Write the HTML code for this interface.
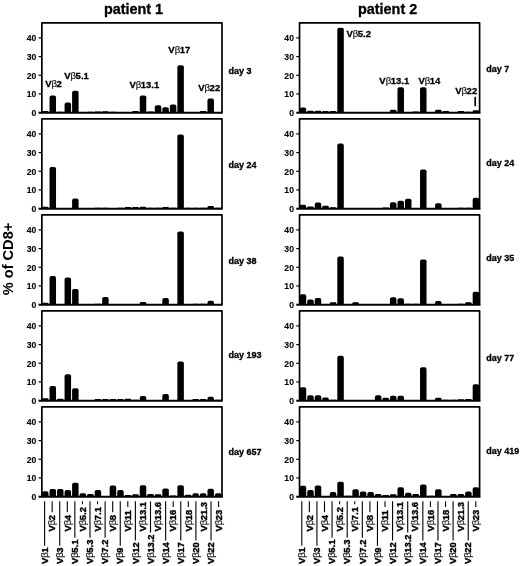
<!DOCTYPE html>
<html><head><meta charset="utf-8"><style>
html,body{margin:0;padding:0;background:#fff;width:520px;height:566px;overflow:hidden}
svg{display:block;filter:blur(0.4px)}
text{stroke:#000;stroke-width:0.3px}
</style></head><body>
<svg width="520" height="566" viewBox="0 0 520 566" font-family='"Liberation Sans", sans-serif' font-weight="bold">
<rect width="520" height="566" fill="#fff"/>
<g fill="#000">
<path d="M42.01,112.60V111.85Q42.01,111.11 42.76,111.11H47.76Q48.51,111.11 48.51,111.85V112.60Z"/>
<path d="M49.53,112.60V97.51Q49.53,95.61 51.43,95.61H54.13Q56.03,95.61 56.03,97.51V112.60Z"/>
<path d="M57.05,112.60V112.13Q57.05,111.67 57.52,111.67H63.08Q63.55,111.67 63.55,112.13V112.60Z"/>
<path d="M64.57,112.60V104.42Q64.57,102.52 66.47,102.52H69.17Q71.07,102.52 71.07,104.42V112.60Z"/>
<path d="M72.09,112.60V92.65Q72.09,90.75 73.99,90.75H76.69Q78.59,90.75 78.59,92.65V112.60Z"/>
<path d="M79.61,112.60V112.41Q79.61,112.23 79.80,112.23H85.92Q86.11,112.23 86.11,112.41V112.60Z"/>
<path d="M87.13,112.60V112.13Q87.13,111.67 87.60,111.67H93.16Q93.63,111.67 93.63,112.13V112.60Z"/>
<path d="M94.65,112.60V112.04Q94.65,111.48 95.21,111.48H100.59Q101.15,111.48 101.15,112.04V112.60Z"/>
<path d="M102.17,112.60V111.95Q102.17,111.29 102.82,111.29H108.02Q108.67,111.29 108.67,111.95V112.60Z"/>
<path d="M109.69,112.60V112.13Q109.69,111.67 110.16,111.67H115.72Q116.19,111.67 116.19,112.13V112.60Z"/>
<path d="M117.21,112.60V112.32Q117.21,112.04 117.49,112.04H123.43Q123.71,112.04 123.71,112.32V112.60Z"/>
<path d="M124.73,112.60V112.41Q124.73,112.23 124.92,112.23H131.04Q131.23,112.23 131.23,112.41V112.60Z"/>
<path d="M132.25,112.60V111.85Q132.25,111.11 133.00,111.11H138.00Q138.75,111.11 138.75,111.85V112.60Z"/>
<path d="M139.77,112.60V97.32Q139.77,95.42 141.67,95.42H144.37Q146.27,95.42 146.27,97.32V112.60Z"/>
<path d="M147.29,112.60V112.04Q147.29,111.48 147.85,111.48H153.23Q153.79,111.48 153.79,112.04V112.60Z"/>
<path d="M154.81,112.60V107.22Q154.81,105.32 156.71,105.32H159.41Q161.31,105.32 161.31,107.22V112.60Z"/>
<path d="M162.33,112.60V109.08Q162.33,107.18 164.23,107.18H166.93Q168.83,107.18 168.83,109.08V112.60Z"/>
<path d="M169.85,112.60V106.47Q169.85,104.57 171.75,104.57H174.45Q176.35,104.57 176.35,106.47V112.60Z"/>
<path d="M177.37,112.60V67.25Q177.37,65.35 179.27,65.35H181.97Q183.87,65.35 183.87,67.25V112.60Z"/>
<path d="M184.89,112.60V112.32Q184.89,112.04 185.17,112.04H191.11Q191.39,112.04 191.39,112.32V112.60Z"/>
<path d="M192.41,112.60V112.32Q192.41,112.04 192.69,112.04H198.63Q198.91,112.04 198.91,112.32V112.60Z"/>
<path d="M199.93,112.60V111.85Q199.93,111.11 200.68,111.11H205.68Q206.43,111.11 206.43,111.85V112.60Z"/>
<path d="M207.45,112.60V100.49Q207.45,98.59 209.35,98.59H212.05Q213.95,98.59 213.95,100.49V112.60Z"/>
<path d="M214.97,112.60V112.32Q214.97,112.04 215.25,112.04H221.19Q221.47,112.04 221.47,112.32V112.60Z"/>
</g>
<path d="M41.85,112.6V22.9H222.0V112.6" fill="none" stroke="#000" stroke-width="1.7" stroke-linejoin="round"/>
<path d="M38.550000000000004,112.75H222.85" fill="none" stroke="#000" stroke-width="1.8"/>
<path d="M38.550000000000004,93.92H41.85" stroke="#000" stroke-width="1.2"/>
<path d="M38.550000000000004,75.25H41.85" stroke="#000" stroke-width="1.2"/>
<path d="M38.550000000000004,56.57H41.85" stroke="#000" stroke-width="1.2"/>
<path d="M38.550000000000004,37.90H41.85" stroke="#000" stroke-width="1.2"/>
<text transform="translate(36.25,115.95) scale(0.88,1)" font-size="9.8" text-anchor="end" style="stroke-width:0.12px">0</text>
<text transform="translate(36.25,97.27) scale(0.88,1)" font-size="9.8" text-anchor="end" style="stroke-width:0.12px">10</text>
<text transform="translate(36.25,78.60) scale(0.88,1)" font-size="9.8" text-anchor="end" style="stroke-width:0.12px">20</text>
<text transform="translate(36.25,59.92) scale(0.88,1)" font-size="9.8" text-anchor="end" style="stroke-width:0.12px">30</text>
<text transform="translate(36.25,41.25) scale(0.88,1)" font-size="9.8" text-anchor="end" style="stroke-width:0.12px">40</text>
<text x="228.5" y="73.6" font-size="9">day 3</text>
<g fill="#000">
<path d="M42.01,208.60V207.67Q42.01,206.73 42.94,206.73H47.58Q48.51,206.73 48.51,207.67V208.60Z"/>
<path d="M49.53,208.60V168.85Q49.53,166.95 51.43,166.95H54.13Q56.03,166.95 56.03,168.85V208.60Z"/>
<path d="M57.05,208.60V208.32Q57.05,208.04 57.33,208.04H63.27Q63.55,208.04 63.55,208.32V208.60Z"/>
<path d="M64.57,208.60V208.32Q64.57,208.04 64.85,208.04H70.79Q71.07,208.04 71.07,208.32V208.60Z"/>
<path d="M72.09,208.60V200.42Q72.09,198.52 73.99,198.52H76.69Q78.59,198.52 78.59,200.42V208.60Z"/>
<path d="M79.61,208.60V208.32Q79.61,208.04 79.89,208.04H85.83Q86.11,208.04 86.11,208.32V208.60Z"/>
<path d="M87.13,208.60V208.41Q87.13,208.23 87.32,208.23H93.44Q93.63,208.23 93.63,208.41V208.60Z"/>
<path d="M94.65,208.60V208.13Q94.65,207.67 95.12,207.67H100.68Q101.15,207.67 101.15,208.13V208.60Z"/>
<path d="M102.17,208.60V208.13Q102.17,207.67 102.64,207.67H108.20Q108.67,207.67 108.67,208.13V208.60Z"/>
<path d="M109.69,208.60V208.32Q109.69,208.04 109.97,208.04H115.91Q116.19,208.04 116.19,208.32V208.60Z"/>
<path d="M117.21,208.60V208.13Q117.21,207.67 117.68,207.67H123.24Q123.71,207.67 123.71,208.13V208.60Z"/>
<path d="M124.73,208.60V207.85Q124.73,207.11 125.48,207.11H130.48Q131.23,207.11 131.23,207.85V208.60Z"/>
<path d="M132.25,208.60V207.85Q132.25,207.11 133.00,207.11H138.00Q138.75,207.11 138.75,207.85V208.60Z"/>
<path d="M139.77,208.60V207.67Q139.77,206.73 140.70,206.73H145.34Q146.27,206.73 146.27,207.67V208.60Z"/>
<path d="M147.29,208.60V208.13Q147.29,207.67 147.76,207.67H153.32Q153.79,207.67 153.79,208.13V208.60Z"/>
<path d="M154.81,208.60V208.13Q154.81,207.67 155.28,207.67H160.84Q161.31,207.67 161.31,208.13V208.60Z"/>
<path d="M162.33,208.60V207.85Q162.33,207.11 163.08,207.11H168.08Q168.83,207.11 168.83,207.85V208.60Z"/>
<path d="M169.85,208.60V208.13Q169.85,207.67 170.32,207.67H175.88Q176.35,207.67 176.35,208.13V208.60Z"/>
<path d="M177.37,208.60V136.36Q177.37,134.46 179.27,134.46H181.97Q183.87,134.46 183.87,136.36V208.60Z"/>
<path d="M184.89,208.60V208.13Q184.89,207.67 185.36,207.67H190.92Q191.39,207.67 191.39,208.13V208.60Z"/>
<path d="M192.41,208.60V208.13Q192.41,207.67 192.88,207.67H198.44Q198.91,207.67 198.91,208.13V208.60Z"/>
<path d="M199.93,208.60V208.13Q199.93,207.67 200.40,207.67H205.96Q206.43,207.67 206.43,208.13V208.60Z"/>
<path d="M207.45,208.60V207.29Q207.45,205.99 208.76,205.99H212.64Q213.95,205.99 213.95,207.29V208.60Z"/>
<path d="M214.97,208.60V208.13Q214.97,207.67 215.44,207.67H221.00Q221.47,207.67 221.47,208.13V208.60Z"/>
</g>
<path d="M41.85,208.6V118.9H222.0V208.6" fill="none" stroke="#000" stroke-width="1.7" stroke-linejoin="round"/>
<path d="M38.550000000000004,208.75H222.85" fill="none" stroke="#000" stroke-width="1.8"/>
<path d="M38.550000000000004,189.92H41.85" stroke="#000" stroke-width="1.2"/>
<path d="M38.550000000000004,171.25H41.85" stroke="#000" stroke-width="1.2"/>
<path d="M38.550000000000004,152.57H41.85" stroke="#000" stroke-width="1.2"/>
<path d="M38.550000000000004,133.90H41.85" stroke="#000" stroke-width="1.2"/>
<text transform="translate(36.25,211.95) scale(0.88,1)" font-size="9.8" text-anchor="end" style="stroke-width:0.12px">0</text>
<text transform="translate(36.25,193.27) scale(0.88,1)" font-size="9.8" text-anchor="end" style="stroke-width:0.12px">10</text>
<text transform="translate(36.25,174.60) scale(0.88,1)" font-size="9.8" text-anchor="end" style="stroke-width:0.12px">20</text>
<text transform="translate(36.25,155.92) scale(0.88,1)" font-size="9.8" text-anchor="end" style="stroke-width:0.12px">30</text>
<text transform="translate(36.25,137.25) scale(0.88,1)" font-size="9.8" text-anchor="end" style="stroke-width:0.12px">40</text>
<text x="228.5" y="168.0" font-size="9">day 24</text>
<g fill="#000">
<path d="M42.01,304.60V303.67Q42.01,302.73 42.94,302.73H47.58Q48.51,302.73 48.51,303.67V304.60Z"/>
<path d="M49.53,304.60V277.93Q49.53,276.03 51.43,276.03H54.13Q56.03,276.03 56.03,277.93V304.60Z"/>
<path d="M57.05,304.60V304.32Q57.05,304.04 57.33,304.04H63.27Q63.55,304.04 63.55,304.32V304.60Z"/>
<path d="M64.57,304.60V279.42Q64.57,277.52 66.47,277.52H69.17Q71.07,277.52 71.07,279.42V304.60Z"/>
<path d="M72.09,304.60V291.00Q72.09,289.10 73.99,289.10H76.69Q78.59,289.10 78.59,291.00V304.60Z"/>
<path d="M79.61,304.60V304.32Q79.61,304.04 79.89,304.04H85.83Q86.11,304.04 86.11,304.32V304.60Z"/>
<path d="M87.13,304.60V304.32Q87.13,304.04 87.41,304.04H93.35Q93.63,304.04 93.63,304.32V304.60Z"/>
<path d="M94.65,304.60V304.13Q94.65,303.67 95.12,303.67H100.68Q101.15,303.67 101.15,304.13V304.60Z"/>
<path d="M102.17,304.60V298.84Q102.17,296.94 104.07,296.94H106.77Q108.67,296.94 108.67,298.84V304.60Z"/>
<path d="M109.69,304.60V304.32Q109.69,304.04 109.97,304.04H115.91Q116.19,304.04 116.19,304.32V304.60Z"/>
<path d="M117.21,304.60V304.32Q117.21,304.04 117.49,304.04H123.43Q123.71,304.04 123.71,304.32V304.60Z"/>
<path d="M124.73,304.60V304.32Q124.73,304.04 125.01,304.04H130.95Q131.23,304.04 131.23,304.32V304.60Z"/>
<path d="M132.25,304.60V304.32Q132.25,304.04 132.53,304.04H138.47Q138.75,304.04 138.75,304.32V304.60Z"/>
<path d="M139.77,304.60V303.29Q139.77,301.99 141.08,301.99H144.96Q146.27,301.99 146.27,303.29V304.60Z"/>
<path d="M147.29,304.60V304.32Q147.29,304.04 147.57,304.04H153.51Q153.79,304.04 153.79,304.32V304.60Z"/>
<path d="M154.81,304.60V304.32Q154.81,304.04 155.09,304.04H161.03Q161.31,304.04 161.31,304.32V304.60Z"/>
<path d="M162.33,304.60V299.96Q162.33,298.06 164.23,298.06H166.93Q168.83,298.06 168.83,299.96V304.60Z"/>
<path d="M169.85,304.60V304.32Q169.85,304.04 170.13,304.04H176.07Q176.35,304.04 176.35,304.32V304.60Z"/>
<path d="M177.37,304.60V233.29Q177.37,231.39 179.27,231.39H181.97Q183.87,231.39 183.87,233.29V304.60Z"/>
<path d="M184.89,304.60V304.32Q184.89,304.04 185.17,304.04H191.11Q191.39,304.04 191.39,304.32V304.60Z"/>
<path d="M192.41,304.60V304.13Q192.41,303.67 192.88,303.67H198.44Q198.91,303.67 198.91,304.13V304.60Z"/>
<path d="M199.93,304.60V304.13Q199.93,303.67 200.40,303.67H205.96Q206.43,303.67 206.43,304.13V304.60Z"/>
<path d="M207.45,304.60V302.73Q207.45,300.87 209.32,300.87H212.08Q213.95,300.87 213.95,302.73V304.60Z"/>
<path d="M214.97,304.60V304.32Q214.97,304.04 215.25,304.04H221.19Q221.47,304.04 221.47,304.32V304.60Z"/>
</g>
<path d="M41.85,304.6V214.9H222.0V304.6" fill="none" stroke="#000" stroke-width="1.7" stroke-linejoin="round"/>
<path d="M38.550000000000004,304.75H222.85" fill="none" stroke="#000" stroke-width="1.8"/>
<path d="M38.550000000000004,285.93H41.85" stroke="#000" stroke-width="1.2"/>
<path d="M38.550000000000004,267.25H41.85" stroke="#000" stroke-width="1.2"/>
<path d="M38.550000000000004,248.58H41.85" stroke="#000" stroke-width="1.2"/>
<path d="M38.550000000000004,229.90H41.85" stroke="#000" stroke-width="1.2"/>
<text transform="translate(36.25,307.95) scale(0.88,1)" font-size="9.8" text-anchor="end" style="stroke-width:0.12px">0</text>
<text transform="translate(36.25,289.28) scale(0.88,1)" font-size="9.8" text-anchor="end" style="stroke-width:0.12px">10</text>
<text transform="translate(36.25,270.60) scale(0.88,1)" font-size="9.8" text-anchor="end" style="stroke-width:0.12px">20</text>
<text transform="translate(36.25,251.93) scale(0.88,1)" font-size="9.8" text-anchor="end" style="stroke-width:0.12px">30</text>
<text transform="translate(36.25,233.25) scale(0.88,1)" font-size="9.8" text-anchor="end" style="stroke-width:0.12px">40</text>
<text x="228.5" y="263.9" font-size="9">day 38</text>
<g fill="#000">
<path d="M42.01,400.60V399.39Q42.01,398.17 43.22,398.17H47.30Q48.51,398.17 48.51,399.39V400.60Z"/>
<path d="M49.53,400.60V387.93Q49.53,386.03 51.43,386.03H54.13Q56.03,386.03 56.03,387.93V400.60Z"/>
<path d="M57.05,400.60V399.67Q57.05,398.73 57.98,398.73H62.62Q63.55,398.73 63.55,399.67V400.60Z"/>
<path d="M64.57,400.60V376.17Q64.57,374.27 66.47,374.27H69.17Q71.07,374.27 71.07,376.17V400.60Z"/>
<path d="M72.09,400.60V390.17Q72.09,388.27 73.99,388.27H76.69Q78.59,388.27 78.59,390.17V400.60Z"/>
<path d="M79.61,400.60V400.32Q79.61,400.04 79.89,400.04H85.83Q86.11,400.04 86.11,400.32V400.60Z"/>
<path d="M87.13,400.60V400.32Q87.13,400.04 87.41,400.04H93.35Q93.63,400.04 93.63,400.32V400.60Z"/>
<path d="M94.65,400.60V399.85Q94.65,399.11 95.40,399.11H100.40Q101.15,399.11 101.15,399.85V400.60Z"/>
<path d="M102.17,400.60V399.85Q102.17,399.11 102.92,399.11H107.92Q108.67,399.11 108.67,399.85V400.60Z"/>
<path d="M109.69,400.60V399.85Q109.69,399.11 110.44,399.11H115.44Q116.19,399.11 116.19,399.85V400.60Z"/>
<path d="M117.21,400.60V399.85Q117.21,399.11 117.96,399.11H122.96Q123.71,399.11 123.71,399.85V400.60Z"/>
<path d="M124.73,400.60V399.67Q124.73,398.73 125.66,398.73H130.30Q131.23,398.73 131.23,399.67V400.60Z"/>
<path d="M132.25,400.60V400.13Q132.25,399.67 132.72,399.67H138.28Q138.75,399.67 138.75,400.13V400.60Z"/>
<path d="M139.77,400.60V398.02Q139.77,396.12 141.67,396.12H144.37Q146.27,396.12 146.27,398.02V400.60Z"/>
<path d="M147.29,400.60V400.32Q147.29,400.04 147.57,400.04H153.51Q153.79,400.04 153.79,400.32V400.60Z"/>
<path d="M154.81,400.60V400.32Q154.81,400.04 155.09,400.04H161.03Q161.31,400.04 161.31,400.32V400.60Z"/>
<path d="M162.33,400.60V395.96Q162.33,394.06 164.23,394.06H166.93Q168.83,394.06 168.83,395.96V400.60Z"/>
<path d="M169.85,400.60V400.32Q169.85,400.04 170.13,400.04H176.07Q176.35,400.04 176.35,400.32V400.60Z"/>
<path d="M177.37,400.60V363.28Q177.37,361.38 179.27,361.38H181.97Q183.87,361.38 183.87,363.28V400.60Z"/>
<path d="M184.89,400.60V400.32Q184.89,400.04 185.17,400.04H191.11Q191.39,400.04 191.39,400.32V400.60Z"/>
<path d="M192.41,400.60V399.85Q192.41,399.11 193.16,399.11H198.16Q198.91,399.11 198.91,399.85V400.60Z"/>
<path d="M199.93,400.60V399.85Q199.93,399.11 200.68,399.11H205.68Q206.43,399.11 206.43,399.85V400.60Z"/>
<path d="M207.45,400.60V398.73Q207.45,396.87 209.32,396.87H212.08Q213.95,396.87 213.95,398.73V400.60Z"/>
<path d="M214.97,400.60V400.13Q214.97,399.67 215.44,399.67H221.00Q221.47,399.67 221.47,400.13V400.60Z"/>
</g>
<path d="M41.85,400.6V310.9H222.0V400.6" fill="none" stroke="#000" stroke-width="1.7" stroke-linejoin="round"/>
<path d="M38.550000000000004,400.75H222.85" fill="none" stroke="#000" stroke-width="1.8"/>
<path d="M38.550000000000004,381.93H41.85" stroke="#000" stroke-width="1.2"/>
<path d="M38.550000000000004,363.25H41.85" stroke="#000" stroke-width="1.2"/>
<path d="M38.550000000000004,344.58H41.85" stroke="#000" stroke-width="1.2"/>
<path d="M38.550000000000004,325.90H41.85" stroke="#000" stroke-width="1.2"/>
<text transform="translate(36.25,403.95) scale(0.88,1)" font-size="9.8" text-anchor="end" style="stroke-width:0.12px">0</text>
<text transform="translate(36.25,385.28) scale(0.88,1)" font-size="9.8" text-anchor="end" style="stroke-width:0.12px">10</text>
<text transform="translate(36.25,366.60) scale(0.88,1)" font-size="9.8" text-anchor="end" style="stroke-width:0.12px">20</text>
<text transform="translate(36.25,347.93) scale(0.88,1)" font-size="9.8" text-anchor="end" style="stroke-width:0.12px">30</text>
<text transform="translate(36.25,329.25) scale(0.88,1)" font-size="9.8" text-anchor="end" style="stroke-width:0.12px">40</text>
<text x="228.5" y="358.3" font-size="9">day 193</text>
<g fill="#000">
<path d="M42.01,496.60V493.08Q42.01,491.18 43.91,491.18H46.61Q48.51,491.18 48.51,493.08V496.60Z"/>
<path d="M49.53,496.60V490.84Q49.53,488.94 51.43,488.94H54.13Q56.03,488.94 56.03,490.84V496.60Z"/>
<path d="M57.05,496.60V490.84Q57.05,488.94 58.95,488.94H61.65Q63.55,488.94 63.55,490.84V496.60Z"/>
<path d="M64.57,496.60V491.96Q64.57,490.06 66.47,490.06H69.17Q71.07,490.06 71.07,491.96V496.60Z"/>
<path d="M72.09,496.60V484.68Q72.09,482.78 73.99,482.78H76.69Q78.59,482.78 78.59,484.68V496.60Z"/>
<path d="M79.61,496.60V494.92Q79.61,493.24 81.29,493.24H84.43Q86.11,493.24 86.11,494.92V496.60Z"/>
<path d="M87.13,496.60V495.29Q87.13,493.99 88.44,493.99H92.32Q93.63,493.99 93.63,495.29V496.60Z"/>
<path d="M94.65,496.60V491.96Q94.65,490.06 96.55,490.06H99.25Q101.15,490.06 101.15,491.96V496.60Z"/>
<path d="M102.17,496.60V496.32Q102.17,496.04 102.45,496.04H108.39Q108.67,496.04 108.67,496.32V496.60Z"/>
<path d="M109.69,496.60V487.48Q109.69,485.58 111.59,485.58H114.29Q116.19,485.58 116.19,487.48V496.60Z"/>
<path d="M117.21,496.60V491.96Q117.21,490.06 119.11,490.06H121.81Q123.71,490.06 123.71,491.96V496.60Z"/>
<path d="M124.73,496.60V495.85Q124.73,495.11 125.48,495.11H130.48Q131.23,495.11 131.23,495.85V496.60Z"/>
<path d="M132.25,496.60V495.48Q132.25,494.36 133.37,494.36H137.63Q138.75,494.36 138.75,495.48V496.60Z"/>
<path d="M139.77,496.60V487.11Q139.77,485.21 141.67,485.21H144.37Q146.27,485.21 146.27,487.11V496.60Z"/>
<path d="M147.29,496.60V495.29Q147.29,493.99 148.60,493.99H152.48Q153.79,493.99 153.79,495.29V496.60Z"/>
<path d="M154.81,496.60V495.48Q154.81,494.36 155.93,494.36H160.19Q161.31,494.36 161.31,495.48V496.60Z"/>
<path d="M162.33,496.60V490.28Q162.33,488.38 164.23,488.38H166.93Q168.83,488.38 168.83,490.28V496.60Z"/>
<path d="M169.85,496.60V496.04Q169.85,495.48 170.41,495.48H175.79Q176.35,495.48 176.35,496.04V496.60Z"/>
<path d="M177.37,496.60V487.11Q177.37,485.21 179.27,485.21H181.97Q183.87,485.21 183.87,487.11V496.60Z"/>
<path d="M184.89,496.60V495.67Q184.89,494.73 185.82,494.73H190.46Q191.39,494.73 191.39,495.67V496.60Z"/>
<path d="M192.41,496.60V494.92Q192.41,493.24 194.09,493.24H197.23Q198.91,493.24 198.91,494.92V496.60Z"/>
<path d="M199.93,496.60V494.92Q199.93,493.24 201.61,493.24H204.75Q206.43,493.24 206.43,494.92V496.60Z"/>
<path d="M207.45,496.60V490.66Q207.45,488.76 209.35,488.76H212.05Q213.95,488.76 213.95,490.66V496.60Z"/>
<path d="M214.97,496.60V494.92Q214.97,493.24 216.65,493.24H219.79Q221.47,493.24 221.47,494.92V496.60Z"/>
</g>
<path d="M41.85,496.6V406.9H222.0V496.6" fill="none" stroke="#000" stroke-width="1.7" stroke-linejoin="round"/>
<path d="M38.550000000000004,496.75H222.85" fill="none" stroke="#000" stroke-width="1.8"/>
<path d="M38.550000000000004,477.93H41.85" stroke="#000" stroke-width="1.2"/>
<path d="M38.550000000000004,459.25H41.85" stroke="#000" stroke-width="1.2"/>
<path d="M38.550000000000004,440.58H41.85" stroke="#000" stroke-width="1.2"/>
<path d="M38.550000000000004,421.90H41.85" stroke="#000" stroke-width="1.2"/>
<text transform="translate(36.25,499.95) scale(0.88,1)" font-size="9.8" text-anchor="end" style="stroke-width:0.12px">0</text>
<text transform="translate(36.25,481.28) scale(0.88,1)" font-size="9.8" text-anchor="end" style="stroke-width:0.12px">10</text>
<text transform="translate(36.25,462.60) scale(0.88,1)" font-size="9.8" text-anchor="end" style="stroke-width:0.12px">20</text>
<text transform="translate(36.25,443.93) scale(0.88,1)" font-size="9.8" text-anchor="end" style="stroke-width:0.12px">30</text>
<text transform="translate(36.25,425.25) scale(0.88,1)" font-size="9.8" text-anchor="end" style="stroke-width:0.12px">40</text>
<text x="228.5" y="455.3" font-size="9">day 657</text>
<g fill="#000">
<path d="M299.71,112.60V109.46Q299.71,107.56 301.61,107.56H304.31Q306.21,107.56 306.21,109.46V112.60Z"/>
<path d="M307.23,112.60V111.67Q307.23,110.73 308.16,110.73H312.80Q313.73,110.73 313.73,111.67V112.60Z"/>
<path d="M314.75,112.60V111.67Q314.75,110.73 315.68,110.73H320.32Q321.25,110.73 321.25,111.67V112.60Z"/>
<path d="M322.27,112.60V111.85Q322.27,111.11 323.02,111.11H328.02Q328.77,111.11 328.77,111.85V112.60Z"/>
<path d="M329.79,112.60V111.85Q329.79,111.11 330.54,111.11H335.54Q336.29,111.11 336.29,111.85V112.60Z"/>
<path d="M337.31,112.60V29.53Q337.31,27.63 339.21,27.63H341.91Q343.81,27.63 343.81,29.53V112.60Z"/>
<path d="M344.83,112.60V112.32Q344.83,112.04 345.11,112.04H351.05Q351.33,112.04 351.33,112.32V112.60Z"/>
<path d="M352.35,112.60V112.32Q352.35,112.04 352.63,112.04H358.57Q358.85,112.04 358.85,112.32V112.60Z"/>
<path d="M359.87,112.60V112.32Q359.87,112.04 360.15,112.04H366.09Q366.37,112.04 366.37,112.32V112.60Z"/>
<path d="M367.39,112.60V112.32Q367.39,112.04 367.67,112.04H373.61Q373.89,112.04 373.89,112.32V112.60Z"/>
<path d="M374.91,112.60V112.32Q374.91,112.04 375.19,112.04H381.13Q381.41,112.04 381.41,112.32V112.60Z"/>
<path d="M382.43,112.60V112.32Q382.43,112.04 382.71,112.04H388.65Q388.93,112.04 388.93,112.32V112.60Z"/>
<path d="M389.95,112.60V111.20Q389.95,109.80 391.35,109.80H395.05Q396.45,109.80 396.45,111.20V112.60Z"/>
<path d="M397.47,112.60V89.10Q397.47,87.20 399.37,87.20H402.07Q403.97,87.20 403.97,89.10V112.60Z"/>
<path d="M404.99,112.60V112.32Q404.99,112.04 405.27,112.04H411.21Q411.49,112.04 411.49,112.32V112.60Z"/>
<path d="M412.51,112.60V112.04Q412.51,111.48 413.07,111.48H418.45Q419.01,111.48 419.01,112.04V112.60Z"/>
<path d="M420.03,112.60V89.10Q420.03,87.20 421.93,87.20H424.63Q426.53,87.20 426.53,89.10V112.60Z"/>
<path d="M427.55,112.60V112.32Q427.55,112.04 427.83,112.04H433.77Q434.05,112.04 434.05,112.32V112.60Z"/>
<path d="M435.07,112.60V111.20Q435.07,109.80 436.47,109.80H440.17Q441.57,109.80 441.57,111.20V112.60Z"/>
<path d="M442.59,112.60V111.85Q442.59,111.11 443.34,111.11H448.34Q449.09,111.11 449.09,111.85V112.60Z"/>
<path d="M450.11,112.60V112.32Q450.11,112.04 450.39,112.04H456.33Q456.61,112.04 456.61,112.32V112.60Z"/>
<path d="M457.63,112.60V111.85Q457.63,111.11 458.38,111.11H463.38Q464.13,111.11 464.13,111.85V112.60Z"/>
<path d="M465.15,112.60V112.23Q465.15,111.85 465.52,111.85H471.28Q471.65,111.85 471.65,112.23V112.60Z"/>
<path d="M472.67,112.60V111.48Q472.67,110.36 473.79,110.36H478.05Q479.17,110.36 479.17,111.48V112.60Z"/>
</g>
<path d="M299.55,112.6V22.9H479.6V112.6" fill="none" stroke="#000" stroke-width="1.7" stroke-linejoin="round"/>
<path d="M296.25,112.75H480.45000000000005" fill="none" stroke="#000" stroke-width="1.8"/>
<path d="M296.25,93.92H299.55" stroke="#000" stroke-width="1.2"/>
<path d="M296.25,75.25H299.55" stroke="#000" stroke-width="1.2"/>
<path d="M296.25,56.57H299.55" stroke="#000" stroke-width="1.2"/>
<path d="M296.25,37.90H299.55" stroke="#000" stroke-width="1.2"/>
<text transform="translate(293.95,115.95) scale(0.88,1)" font-size="9.8" text-anchor="end" style="stroke-width:0.12px">0</text>
<text transform="translate(293.95,97.27) scale(0.88,1)" font-size="9.8" text-anchor="end" style="stroke-width:0.12px">10</text>
<text transform="translate(293.95,78.60) scale(0.88,1)" font-size="9.8" text-anchor="end" style="stroke-width:0.12px">20</text>
<text transform="translate(293.95,59.92) scale(0.88,1)" font-size="9.8" text-anchor="end" style="stroke-width:0.12px">30</text>
<text transform="translate(293.95,41.25) scale(0.88,1)" font-size="9.8" text-anchor="end" style="stroke-width:0.12px">40</text>
<text x="486.2" y="72.0" font-size="9">day 7</text>
<g fill="#000">
<path d="M299.71,208.60V206.73Q299.71,204.86 301.58,204.86H304.34Q306.21,204.86 306.21,206.73V208.60Z"/>
<path d="M307.23,208.60V207.57Q307.23,206.55 308.26,206.55H312.70Q313.73,206.55 313.73,207.57V208.60Z"/>
<path d="M314.75,208.60V204.52Q314.75,202.62 316.65,202.62H319.35Q321.25,202.62 321.25,204.52V208.60Z"/>
<path d="M322.27,208.60V207.20Q322.27,205.80 323.67,205.80H327.37Q328.77,205.80 328.77,207.20V208.60Z"/>
<path d="M329.79,208.60V207.95Q329.79,207.29 330.44,207.29H335.64Q336.29,207.29 336.29,207.95V208.60Z"/>
<path d="M337.31,208.60V145.51Q337.31,143.61 339.21,143.61H341.91Q343.81,143.61 343.81,145.51V208.60Z"/>
<path d="M344.83,208.60V208.32Q344.83,208.04 345.11,208.04H351.05Q351.33,208.04 351.33,208.32V208.60Z"/>
<path d="M352.35,208.60V208.32Q352.35,208.04 352.63,208.04H358.57Q358.85,208.04 358.85,208.32V208.60Z"/>
<path d="M359.87,208.60V208.32Q359.87,208.04 360.15,208.04H366.09Q366.37,208.04 366.37,208.32V208.60Z"/>
<path d="M367.39,208.60V208.32Q367.39,208.04 367.67,208.04H373.61Q373.89,208.04 373.89,208.32V208.60Z"/>
<path d="M374.91,208.60V208.32Q374.91,208.04 375.19,208.04H381.13Q381.41,208.04 381.41,208.32V208.60Z"/>
<path d="M382.43,208.60V208.04Q382.43,207.48 382.99,207.48H388.37Q388.93,207.48 388.93,208.04V208.60Z"/>
<path d="M389.95,208.60V204.15Q389.95,202.25 391.85,202.25H394.55Q396.45,202.25 396.45,204.15V208.60Z"/>
<path d="M397.47,208.60V202.66Q397.47,200.76 399.37,200.76H402.07Q403.97,200.76 403.97,202.66V208.60Z"/>
<path d="M404.99,208.60V200.60Q404.99,198.70 406.89,198.70H409.59Q411.49,198.70 411.49,200.60V208.60Z"/>
<path d="M412.51,208.60V208.32Q412.51,208.04 412.79,208.04H418.73Q419.01,208.04 419.01,208.32V208.60Z"/>
<path d="M420.03,208.60V171.28Q420.03,169.38 421.93,169.38H424.63Q426.53,169.38 426.53,171.28V208.60Z"/>
<path d="M427.55,208.60V208.32Q427.55,208.04 427.83,208.04H433.77Q434.05,208.04 434.05,208.32V208.60Z"/>
<path d="M435.07,208.60V205.08Q435.07,203.18 436.97,203.18H439.67Q441.57,203.18 441.57,205.08V208.60Z"/>
<path d="M442.59,208.60V208.32Q442.59,208.04 442.87,208.04H448.81Q449.09,208.04 449.09,208.32V208.60Z"/>
<path d="M450.11,208.60V208.32Q450.11,208.04 450.39,208.04H456.33Q456.61,208.04 456.61,208.32V208.60Z"/>
<path d="M457.63,208.60V208.13Q457.63,207.67 458.10,207.67H463.66Q464.13,207.67 464.13,208.13V208.60Z"/>
<path d="M465.15,208.60V208.13Q465.15,207.67 465.62,207.67H471.18Q471.65,207.67 471.65,208.13V208.60Z"/>
<path d="M472.67,208.60V199.67Q472.67,197.77 474.57,197.77H477.27Q479.17,197.77 479.17,199.67V208.60Z"/>
</g>
<path d="M299.55,208.6V118.9H479.6V208.6" fill="none" stroke="#000" stroke-width="1.7" stroke-linejoin="round"/>
<path d="M296.25,208.75H480.45000000000005" fill="none" stroke="#000" stroke-width="1.8"/>
<path d="M296.25,189.92H299.55" stroke="#000" stroke-width="1.2"/>
<path d="M296.25,171.25H299.55" stroke="#000" stroke-width="1.2"/>
<path d="M296.25,152.57H299.55" stroke="#000" stroke-width="1.2"/>
<path d="M296.25,133.90H299.55" stroke="#000" stroke-width="1.2"/>
<text transform="translate(293.95,211.95) scale(0.88,1)" font-size="9.8" text-anchor="end" style="stroke-width:0.12px">0</text>
<text transform="translate(293.95,193.27) scale(0.88,1)" font-size="9.8" text-anchor="end" style="stroke-width:0.12px">10</text>
<text transform="translate(293.95,174.60) scale(0.88,1)" font-size="9.8" text-anchor="end" style="stroke-width:0.12px">20</text>
<text transform="translate(293.95,155.92) scale(0.88,1)" font-size="9.8" text-anchor="end" style="stroke-width:0.12px">30</text>
<text transform="translate(293.95,137.25) scale(0.88,1)" font-size="9.8" text-anchor="end" style="stroke-width:0.12px">40</text>
<text x="486.2" y="165.5" font-size="9">day 24</text>
<g fill="#000">
<path d="M299.71,304.60V296.23Q299.71,294.33 301.61,294.33H304.31Q306.21,294.33 306.21,296.23V304.60Z"/>
<path d="M307.23,304.60V301.46Q307.23,299.56 309.13,299.56H311.83Q313.73,299.56 313.73,301.46V304.60Z"/>
<path d="M314.75,304.60V299.78Q314.75,297.88 316.65,297.88H319.35Q321.25,297.88 321.25,299.78V304.60Z"/>
<path d="M322.27,304.60V304.32Q322.27,304.04 322.55,304.04H328.49Q328.77,304.04 328.77,304.32V304.60Z"/>
<path d="M329.79,304.60V303.39Q329.79,302.17 331.00,302.17H335.08Q336.29,302.17 336.29,303.39V304.60Z"/>
<path d="M337.31,304.60V258.51Q337.31,256.61 339.21,256.61H341.91Q343.81,256.61 343.81,258.51V304.60Z"/>
<path d="M344.83,304.60V304.32Q344.83,304.04 345.11,304.04H351.05Q351.33,304.04 351.33,304.32V304.60Z"/>
<path d="M352.35,304.60V303.39Q352.35,302.17 353.56,302.17H357.64Q358.85,302.17 358.85,303.39V304.60Z"/>
<path d="M359.87,304.60V304.32Q359.87,304.04 360.15,304.04H366.09Q366.37,304.04 366.37,304.32V304.60Z"/>
<path d="M367.39,304.60V304.32Q367.39,304.04 367.67,304.04H373.61Q373.89,304.04 373.89,304.32V304.60Z"/>
<path d="M374.91,304.60V304.32Q374.91,304.04 375.19,304.04H381.13Q381.41,304.04 381.41,304.32V304.60Z"/>
<path d="M382.43,304.60V304.32Q382.43,304.04 382.71,304.04H388.65Q388.93,304.04 388.93,304.32V304.60Z"/>
<path d="M389.95,304.60V299.22Q389.95,297.32 391.85,297.32H394.55Q396.45,297.32 396.45,299.22V304.60Z"/>
<path d="M397.47,304.60V300.15Q397.47,298.25 399.37,298.25H402.07Q403.97,298.25 403.97,300.15V304.60Z"/>
<path d="M404.99,304.60V304.13Q404.99,303.67 405.46,303.67H411.02Q411.49,303.67 411.49,304.13V304.60Z"/>
<path d="M412.51,304.60V304.13Q412.51,303.67 412.98,303.67H418.54Q419.01,303.67 419.01,304.13V304.60Z"/>
<path d="M420.03,304.60V261.31Q420.03,259.41 421.93,259.41H424.63Q426.53,259.41 426.53,261.31V304.60Z"/>
<path d="M427.55,304.60V304.32Q427.55,304.04 427.83,304.04H433.77Q434.05,304.04 434.05,304.32V304.60Z"/>
<path d="M435.07,304.60V302.83Q435.07,301.05 436.84,301.05H439.80Q441.57,301.05 441.57,302.83V304.60Z"/>
<path d="M442.59,304.60V304.32Q442.59,304.04 442.87,304.04H448.81Q449.09,304.04 449.09,304.32V304.60Z"/>
<path d="M450.11,304.60V304.32Q450.11,304.04 450.39,304.04H456.33Q456.61,304.04 456.61,304.32V304.60Z"/>
<path d="M457.63,304.60V304.23Q457.63,303.85 458.00,303.85H463.76Q464.13,303.85 464.13,304.23V304.60Z"/>
<path d="M465.15,304.60V303.39Q465.15,302.17 466.36,302.17H470.44Q471.65,302.17 471.65,303.39V304.60Z"/>
<path d="M472.67,304.60V293.61Q472.67,291.71 474.57,291.71H477.27Q479.17,291.71 479.17,293.61V304.60Z"/>
</g>
<path d="M299.55,304.6V214.9H479.6V304.6" fill="none" stroke="#000" stroke-width="1.7" stroke-linejoin="round"/>
<path d="M296.25,304.75H480.45000000000005" fill="none" stroke="#000" stroke-width="1.8"/>
<path d="M296.25,285.93H299.55" stroke="#000" stroke-width="1.2"/>
<path d="M296.25,267.25H299.55" stroke="#000" stroke-width="1.2"/>
<path d="M296.25,248.58H299.55" stroke="#000" stroke-width="1.2"/>
<path d="M296.25,229.90H299.55" stroke="#000" stroke-width="1.2"/>
<text transform="translate(293.95,307.95) scale(0.88,1)" font-size="9.8" text-anchor="end" style="stroke-width:0.12px">0</text>
<text transform="translate(293.95,289.28) scale(0.88,1)" font-size="9.8" text-anchor="end" style="stroke-width:0.12px">10</text>
<text transform="translate(293.95,270.60) scale(0.88,1)" font-size="9.8" text-anchor="end" style="stroke-width:0.12px">20</text>
<text transform="translate(293.95,251.93) scale(0.88,1)" font-size="9.8" text-anchor="end" style="stroke-width:0.12px">30</text>
<text transform="translate(293.95,233.25) scale(0.88,1)" font-size="9.8" text-anchor="end" style="stroke-width:0.12px">40</text>
<text x="486.2" y="261.1" font-size="9">day 35</text>
<g fill="#000">
<path d="M299.71,400.60V389.24Q299.71,387.34 301.61,387.34H304.31Q306.21,387.34 306.21,389.24V400.60Z"/>
<path d="M307.23,400.60V397.27Q307.23,395.37 309.13,395.37H311.83Q313.73,395.37 313.73,397.27V400.60Z"/>
<path d="M314.75,400.60V397.27Q314.75,395.37 316.65,395.37H319.35Q321.25,395.37 321.25,397.27V400.60Z"/>
<path d="M322.27,400.60V399.11Q322.27,397.61 323.76,397.61H327.28Q328.77,397.61 328.77,399.11V400.60Z"/>
<path d="M329.79,400.60V400.13Q329.79,399.67 330.26,399.67H335.82Q336.29,399.67 336.29,400.13V400.60Z"/>
<path d="M337.31,400.60V357.68Q337.31,355.78 339.21,355.78H341.91Q343.81,355.78 343.81,357.68V400.60Z"/>
<path d="M344.83,400.60V400.32Q344.83,400.04 345.11,400.04H351.05Q351.33,400.04 351.33,400.32V400.60Z"/>
<path d="M352.35,400.60V400.32Q352.35,400.04 352.63,400.04H358.57Q358.85,400.04 358.85,400.32V400.60Z"/>
<path d="M359.87,400.60V400.32Q359.87,400.04 360.15,400.04H366.09Q366.37,400.04 366.37,400.32V400.60Z"/>
<path d="M367.39,400.60V400.32Q367.39,400.04 367.67,400.04H373.61Q373.89,400.04 373.89,400.32V400.60Z"/>
<path d="M374.91,400.60V397.27Q374.91,395.37 376.81,395.37H379.51Q381.41,395.37 381.41,397.27V400.60Z"/>
<path d="M382.43,400.60V399.20Q382.43,397.80 383.83,397.80H387.53Q388.93,397.80 388.93,399.20V400.60Z"/>
<path d="M389.95,400.60V397.64Q389.95,395.74 391.85,395.74H394.55Q396.45,395.74 396.45,397.64V400.60Z"/>
<path d="M397.47,400.60V397.64Q397.47,395.74 399.37,395.74H402.07Q403.97,395.74 403.97,397.64V400.60Z"/>
<path d="M404.99,400.60V400.32Q404.99,400.04 405.27,400.04H411.21Q411.49,400.04 411.49,400.32V400.60Z"/>
<path d="M412.51,400.60V400.32Q412.51,400.04 412.79,400.04H418.73Q419.01,400.04 419.01,400.32V400.60Z"/>
<path d="M420.03,400.60V369.07Q420.03,367.17 421.93,367.17H424.63Q426.53,367.17 426.53,369.07V400.60Z"/>
<path d="M427.55,400.60V400.32Q427.55,400.04 427.83,400.04H433.77Q434.05,400.04 434.05,400.32V400.60Z"/>
<path d="M435.07,400.60V399.20Q435.07,397.80 436.47,397.80H440.17Q441.57,397.80 441.57,399.20V400.60Z"/>
<path d="M442.59,400.60V400.13Q442.59,399.67 443.06,399.67H448.62Q449.09,399.67 449.09,400.13V400.60Z"/>
<path d="M450.11,400.60V400.13Q450.11,399.67 450.58,399.67H456.14Q456.61,399.67 456.61,400.13V400.60Z"/>
<path d="M457.63,400.60V399.95Q457.63,399.29 458.28,399.29H463.48Q464.13,399.29 464.13,399.95V400.60Z"/>
<path d="M465.15,400.60V399.76Q465.15,398.92 465.99,398.92H470.81Q471.65,398.92 471.65,399.76V400.60Z"/>
<path d="M472.67,400.60V386.07Q472.67,384.17 474.57,384.17H477.27Q479.17,384.17 479.17,386.07V400.60Z"/>
</g>
<path d="M299.55,400.6V310.9H479.6V400.6" fill="none" stroke="#000" stroke-width="1.7" stroke-linejoin="round"/>
<path d="M296.25,400.75H480.45000000000005" fill="none" stroke="#000" stroke-width="1.8"/>
<path d="M296.25,381.93H299.55" stroke="#000" stroke-width="1.2"/>
<path d="M296.25,363.25H299.55" stroke="#000" stroke-width="1.2"/>
<path d="M296.25,344.58H299.55" stroke="#000" stroke-width="1.2"/>
<path d="M296.25,325.90H299.55" stroke="#000" stroke-width="1.2"/>
<text transform="translate(293.95,403.95) scale(0.88,1)" font-size="9.8" text-anchor="end" style="stroke-width:0.12px">0</text>
<text transform="translate(293.95,385.28) scale(0.88,1)" font-size="9.8" text-anchor="end" style="stroke-width:0.12px">10</text>
<text transform="translate(293.95,366.60) scale(0.88,1)" font-size="9.8" text-anchor="end" style="stroke-width:0.12px">20</text>
<text transform="translate(293.95,347.93) scale(0.88,1)" font-size="9.8" text-anchor="end" style="stroke-width:0.12px">30</text>
<text transform="translate(293.95,329.25) scale(0.88,1)" font-size="9.8" text-anchor="end" style="stroke-width:0.12px">40</text>
<text x="486.2" y="360.5" font-size="9">day 77</text>
<g fill="#000">
<path d="M299.71,496.60V487.67Q299.71,485.77 301.61,485.77H304.31Q306.21,485.77 306.21,487.67V496.60Z"/>
<path d="M307.23,496.60V491.96Q307.23,490.06 309.13,490.06H311.83Q313.73,490.06 313.73,491.96V496.60Z"/>
<path d="M314.75,496.60V487.30Q314.75,485.40 316.65,485.40H319.35Q321.25,485.40 321.25,487.30V496.60Z"/>
<path d="M322.27,496.60V496.32Q322.27,496.04 322.55,496.04H328.49Q328.77,496.04 328.77,496.32V496.60Z"/>
<path d="M329.79,496.60V494.02Q329.79,492.12 331.69,492.12H334.39Q336.29,492.12 336.29,494.02V496.60Z"/>
<path d="M337.31,496.60V483.56Q337.31,481.66 339.21,481.66H341.91Q343.81,481.66 343.81,483.56V496.60Z"/>
<path d="M344.83,496.60V496.13Q344.83,495.67 345.30,495.67H350.86Q351.33,495.67 351.33,496.13V496.60Z"/>
<path d="M352.35,496.60V491.22Q352.35,489.32 354.25,489.32H356.95Q358.85,489.32 358.85,491.22V496.60Z"/>
<path d="M359.87,496.60V493.46Q359.87,491.56 361.77,491.56H364.47Q366.37,491.56 366.37,493.46V496.60Z"/>
<path d="M367.39,496.60V493.83Q367.39,491.93 369.29,491.93H371.99Q373.89,491.93 373.89,493.83V496.60Z"/>
<path d="M374.91,496.60V495.29Q374.91,493.99 376.22,493.99H380.10Q381.41,493.99 381.41,495.29V496.60Z"/>
<path d="M382.43,496.60V495.85Q382.43,495.11 383.18,495.11H388.18Q388.93,495.11 388.93,495.85V496.60Z"/>
<path d="M389.95,496.60V495.48Q389.95,494.36 391.07,494.36H395.33Q396.45,494.36 396.45,495.48V496.60Z"/>
<path d="M397.47,496.60V489.16Q397.47,487.26 399.37,487.26H402.07Q403.97,487.26 403.97,489.16V496.60Z"/>
<path d="M404.99,496.60V494.73Q404.99,492.87 406.86,492.87H409.62Q411.49,492.87 411.49,494.73V496.60Z"/>
<path d="M412.51,496.60V495.29Q412.51,493.99 413.82,493.99H417.70Q419.01,493.99 419.01,495.29V496.60Z"/>
<path d="M420.03,496.60V486.36Q420.03,484.46 421.93,484.46H424.63Q426.53,484.46 426.53,486.36V496.60Z"/>
<path d="M427.55,496.60V496.13Q427.55,495.67 428.02,495.67H433.58Q434.05,495.67 434.05,496.13V496.60Z"/>
<path d="M435.07,496.60V491.22Q435.07,489.32 436.97,489.32H439.67Q441.57,489.32 441.57,491.22V496.60Z"/>
<path d="M442.59,496.60V496.32Q442.59,496.04 442.87,496.04H448.81Q449.09,496.04 449.09,496.32V496.60Z"/>
<path d="M450.11,496.60V495.29Q450.11,493.99 451.42,493.99H455.30Q456.61,493.99 456.61,495.29V496.60Z"/>
<path d="M457.63,496.60V495.29Q457.63,493.99 458.94,493.99H462.82Q464.13,493.99 464.13,495.29V496.60Z"/>
<path d="M465.15,496.60V493.46Q465.15,491.56 467.05,491.56H469.75Q471.65,491.56 471.65,493.46V496.60Z"/>
<path d="M472.67,496.60V489.16Q472.67,487.26 474.57,487.26H477.27Q479.17,487.26 479.17,489.16V496.60Z"/>
</g>
<path d="M299.55,496.6V406.9H479.6V496.6" fill="none" stroke="#000" stroke-width="1.7" stroke-linejoin="round"/>
<path d="M296.25,496.75H480.45000000000005" fill="none" stroke="#000" stroke-width="1.8"/>
<path d="M296.25,477.93H299.55" stroke="#000" stroke-width="1.2"/>
<path d="M296.25,459.25H299.55" stroke="#000" stroke-width="1.2"/>
<path d="M296.25,440.58H299.55" stroke="#000" stroke-width="1.2"/>
<path d="M296.25,421.90H299.55" stroke="#000" stroke-width="1.2"/>
<text transform="translate(293.95,499.95) scale(0.88,1)" font-size="9.8" text-anchor="end" style="stroke-width:0.12px">0</text>
<text transform="translate(293.95,481.28) scale(0.88,1)" font-size="9.8" text-anchor="end" style="stroke-width:0.12px">10</text>
<text transform="translate(293.95,462.60) scale(0.88,1)" font-size="9.8" text-anchor="end" style="stroke-width:0.12px">20</text>
<text transform="translate(293.95,443.93) scale(0.88,1)" font-size="9.8" text-anchor="end" style="stroke-width:0.12px">30</text>
<text transform="translate(293.95,425.25) scale(0.88,1)" font-size="9.8" text-anchor="end" style="stroke-width:0.12px">40</text>
<text x="486.2" y="454.0" font-size="9">day 419</text>
<text x="133.5" y="13.5" font-size="14.4" text-anchor="middle">patient 1</text>
<text x="387.6" y="13.5" font-size="14.4" text-anchor="middle">patient 2</text>
<text transform="translate(13.0,259) rotate(-90)" font-size="14.6" text-anchor="middle" style="stroke-width:0">% of CD8+</text>
<text transform="translate(45.2,87.0) scale(0.96,1)" font-size="9.9" style="stroke-width:0.3px">V<tspan font-weight="normal" fill="#222" style="stroke-width:0.2px;letter-spacing:-0.4px">β</tspan>2</text>
<text transform="translate(64.2,79.4) scale(0.96,1)" font-size="9.9" style="stroke-width:0.3px">V<tspan font-weight="normal" fill="#222" style="stroke-width:0.2px;letter-spacing:-0.4px">β</tspan>5.1</text>
<text transform="translate(129.4,88.0) scale(0.96,1)" font-size="9.9" style="stroke-width:0.3px">V<tspan font-weight="normal" fill="#222" style="stroke-width:0.2px;letter-spacing:-0.4px">β</tspan>13.1</text>
<text transform="translate(168.3,52.8) scale(0.96,1)" font-size="9.9" style="stroke-width:0.3px">V<tspan font-weight="normal" fill="#222" style="stroke-width:0.2px;letter-spacing:-0.4px">β</tspan>17</text>
<text transform="translate(198.2,90.9) scale(0.96,1)" font-size="9.9" style="stroke-width:0.3px">V<tspan font-weight="normal" fill="#222" style="stroke-width:0.2px;letter-spacing:-0.4px">β</tspan>22</text>
<text transform="translate(346.4,36.7) scale(0.96,1)" font-size="9.9" style="stroke-width:0.3px">V<tspan font-weight="normal" fill="#222" style="stroke-width:0.2px;letter-spacing:-0.4px">β</tspan>5.2</text>
<text transform="translate(379.3,83.8) scale(0.96,1)" font-size="9.9" style="stroke-width:0.3px">V<tspan font-weight="normal" fill="#222" style="stroke-width:0.2px;letter-spacing:-0.4px">β</tspan>13.1</text>
<text transform="translate(418.4,83.8) scale(0.96,1)" font-size="9.9" style="stroke-width:0.3px">V<tspan font-weight="normal" fill="#222" style="stroke-width:0.2px;letter-spacing:-0.4px">β</tspan>14</text>
<text transform="translate(455.2,93.6) scale(0.96,1)" font-size="9.9" style="stroke-width:0.3px">V<tspan font-weight="normal" fill="#222" style="stroke-width:0.2px;letter-spacing:-0.4px">β</tspan>22</text>
<path d="M475.2,96.8V106.2" stroke="#000" stroke-width="1.7"/>
<text transform="translate(47.80,564.0) rotate(-90) scale(0.96,1)" font-size="9.8" style="stroke-width:0.4px">V<tspan font-weight="normal" fill="#222" style="stroke-width:0.2px;letter-spacing:-0.4px">β</tspan>1</text>
<path d="M44.60,501.3V545.70" stroke="#000" stroke-width="1.1"/>
<text transform="translate(55.37,531.5) rotate(-90) scale(0.96,1)" font-size="9.8" style="stroke-width:0.4px">V<tspan font-weight="normal" fill="#222" style="stroke-width:0.2px;letter-spacing:-0.4px">β</tspan>2</text>
<path d="M52.16,501.3V512.20" stroke="#000" stroke-width="1.1"/>
<text transform="translate(62.93,564.0) rotate(-90) scale(0.96,1)" font-size="9.8" style="stroke-width:0.4px">V<tspan font-weight="normal" fill="#222" style="stroke-width:0.2px;letter-spacing:-0.4px">β</tspan>3</text>
<path d="M59.73,501.3V545.70" stroke="#000" stroke-width="1.1"/>
<text transform="translate(70.50,531.5) rotate(-90) scale(0.96,1)" font-size="9.8" style="stroke-width:0.4px">V<tspan font-weight="normal" fill="#222" style="stroke-width:0.2px;letter-spacing:-0.4px">β</tspan>4</text>
<path d="M67.30,501.3V512.20" stroke="#000" stroke-width="1.1"/>
<text transform="translate(78.06,564.0) rotate(-90) scale(0.96,1)" font-size="9.8" style="stroke-width:0.4px">V<tspan font-weight="normal" fill="#222" style="stroke-width:0.2px;letter-spacing:-0.4px">β</tspan>5.1</text>
<path d="M74.86,501.3V537.85" stroke="#000" stroke-width="1.1"/>
<text transform="translate(85.63,531.5) rotate(-90) scale(0.96,1)" font-size="9.8" style="stroke-width:0.4px">V<tspan font-weight="normal" fill="#222" style="stroke-width:0.2px;letter-spacing:-0.4px">β</tspan>5.2</text>
<path d="M82.43,501.3V504.35" stroke="#000" stroke-width="1.1"/>
<text transform="translate(93.19,564.0) rotate(-90) scale(0.96,1)" font-size="9.8" style="stroke-width:0.4px">V<tspan font-weight="normal" fill="#222" style="stroke-width:0.2px;letter-spacing:-0.4px">β</tspan>5.3</text>
<path d="M89.99,501.3V537.85" stroke="#000" stroke-width="1.1"/>
<text transform="translate(100.76,531.5) rotate(-90) scale(0.96,1)" font-size="9.8" style="stroke-width:0.4px">V<tspan font-weight="normal" fill="#222" style="stroke-width:0.2px;letter-spacing:-0.4px">β</tspan>7.1</text>
<path d="M97.56,501.3V504.35" stroke="#000" stroke-width="1.1"/>
<text transform="translate(108.32,564.0) rotate(-90) scale(0.96,1)" font-size="9.8" style="stroke-width:0.4px">V<tspan font-weight="normal" fill="#222" style="stroke-width:0.2px;letter-spacing:-0.4px">β</tspan>7.2</text>
<path d="M105.12,501.3V537.85" stroke="#000" stroke-width="1.1"/>
<text transform="translate(115.89,531.5) rotate(-90) scale(0.96,1)" font-size="9.8" style="stroke-width:0.4px">V<tspan font-weight="normal" fill="#222" style="stroke-width:0.2px;letter-spacing:-0.4px">β</tspan>8</text>
<path d="M112.69,501.3V512.20" stroke="#000" stroke-width="1.1"/>
<text transform="translate(123.45,564.0) rotate(-90) scale(0.96,1)" font-size="9.8" style="stroke-width:0.4px">V<tspan font-weight="normal" fill="#222" style="stroke-width:0.2px;letter-spacing:-0.4px">β</tspan>9</text>
<path d="M120.25,501.3V545.70" stroke="#000" stroke-width="1.1"/>
<text transform="translate(131.01,531.5) rotate(-90) scale(0.96,1)" font-size="9.8" style="stroke-width:0.4px">V<tspan font-weight="normal" fill="#222" style="stroke-width:0.2px;letter-spacing:-0.4px">β</tspan>11</text>
<path d="M127.81,501.3V506.97" stroke="#000" stroke-width="1.1"/>
<text transform="translate(138.58,564.0) rotate(-90) scale(0.96,1)" font-size="9.8" style="stroke-width:0.4px">V<tspan font-weight="normal" fill="#222" style="stroke-width:0.2px;letter-spacing:-0.4px">β</tspan>12</text>
<path d="M135.38,501.3V540.47" stroke="#000" stroke-width="1.1"/>
<text transform="translate(146.14,531.5) rotate(-90) scale(0.96,1)" font-size="9.8" style="stroke-width:0.4px">V<tspan font-weight="normal" fill="#222" style="stroke-width:0.2px;letter-spacing:-0.4px">β</tspan>13.1</text>
<text transform="translate(153.71,564.0) rotate(-90) scale(0.96,1)" font-size="9.8" style="stroke-width:0.4px">V<tspan font-weight="normal" fill="#222" style="stroke-width:0.2px;letter-spacing:-0.4px">β</tspan>13.2</text>
<path d="M150.51,501.3V532.62" stroke="#000" stroke-width="1.1"/>
<text transform="translate(161.28,531.5) rotate(-90) scale(0.96,1)" font-size="9.8" style="stroke-width:0.4px">V<tspan font-weight="normal" fill="#222" style="stroke-width:0.2px;letter-spacing:-0.4px">β</tspan>13.6</text>
<text transform="translate(168.84,564.0) rotate(-90) scale(0.96,1)" font-size="9.8" style="stroke-width:0.4px">V<tspan font-weight="normal" fill="#222" style="stroke-width:0.2px;letter-spacing:-0.4px">β</tspan>14</text>
<path d="M165.64,501.3V540.47" stroke="#000" stroke-width="1.1"/>
<text transform="translate(176.41,531.5) rotate(-90) scale(0.96,1)" font-size="9.8" style="stroke-width:0.4px">V<tspan font-weight="normal" fill="#222" style="stroke-width:0.2px;letter-spacing:-0.4px">β</tspan>16</text>
<path d="M173.21,501.3V506.97" stroke="#000" stroke-width="1.1"/>
<text transform="translate(183.97,564.0) rotate(-90) scale(0.96,1)" font-size="9.8" style="stroke-width:0.4px">V<tspan font-weight="normal" fill="#222" style="stroke-width:0.2px;letter-spacing:-0.4px">β</tspan>17</text>
<path d="M180.77,501.3V540.47" stroke="#000" stroke-width="1.1"/>
<text transform="translate(191.53,531.5) rotate(-90) scale(0.96,1)" font-size="9.8" style="stroke-width:0.4px">V<tspan font-weight="normal" fill="#222" style="stroke-width:0.2px;letter-spacing:-0.4px">β</tspan>18</text>
<path d="M188.34,501.3V506.97" stroke="#000" stroke-width="1.1"/>
<text transform="translate(199.10,564.0) rotate(-90) scale(0.96,1)" font-size="9.8" style="stroke-width:0.4px">V<tspan font-weight="normal" fill="#222" style="stroke-width:0.2px;letter-spacing:-0.4px">β</tspan>20</text>
<path d="M195.90,501.3V540.47" stroke="#000" stroke-width="1.1"/>
<text transform="translate(206.66,531.5) rotate(-90) scale(0.96,1)" font-size="9.8" style="stroke-width:0.4px">V<tspan font-weight="normal" fill="#222" style="stroke-width:0.2px;letter-spacing:-0.4px">β</tspan>21.3</text>
<text transform="translate(214.23,564.0) rotate(-90) scale(0.96,1)" font-size="9.8" style="stroke-width:0.4px">V<tspan font-weight="normal" fill="#222" style="stroke-width:0.2px;letter-spacing:-0.4px">β</tspan>22</text>
<path d="M211.03,501.3V540.47" stroke="#000" stroke-width="1.1"/>
<text transform="translate(221.79,531.5) rotate(-90) scale(0.96,1)" font-size="9.8" style="stroke-width:0.4px">V<tspan font-weight="normal" fill="#222" style="stroke-width:0.2px;letter-spacing:-0.4px">β</tspan>23</text>
<path d="M218.59,501.3V506.97" stroke="#000" stroke-width="1.1"/>
<text transform="translate(305.00,564.0) rotate(-90) scale(0.96,1)" font-size="9.8" style="stroke-width:0.4px">V<tspan font-weight="normal" fill="#222" style="stroke-width:0.2px;letter-spacing:-0.4px">β</tspan>1</text>
<path d="M301.80,501.3V545.70" stroke="#000" stroke-width="1.1"/>
<text transform="translate(312.56,531.5) rotate(-90) scale(0.96,1)" font-size="9.8" style="stroke-width:0.4px">V<tspan font-weight="normal" fill="#222" style="stroke-width:0.2px;letter-spacing:-0.4px">β</tspan>2</text>
<path d="M309.37,501.3V512.20" stroke="#000" stroke-width="1.1"/>
<text transform="translate(320.13,564.0) rotate(-90) scale(0.96,1)" font-size="9.8" style="stroke-width:0.4px">V<tspan font-weight="normal" fill="#222" style="stroke-width:0.2px;letter-spacing:-0.4px">β</tspan>3</text>
<path d="M316.93,501.3V545.70" stroke="#000" stroke-width="1.1"/>
<text transform="translate(327.69,531.5) rotate(-90) scale(0.96,1)" font-size="9.8" style="stroke-width:0.4px">V<tspan font-weight="normal" fill="#222" style="stroke-width:0.2px;letter-spacing:-0.4px">β</tspan>4</text>
<path d="M324.50,501.3V512.20" stroke="#000" stroke-width="1.1"/>
<text transform="translate(335.26,564.0) rotate(-90) scale(0.96,1)" font-size="9.8" style="stroke-width:0.4px">V<tspan font-weight="normal" fill="#222" style="stroke-width:0.2px;letter-spacing:-0.4px">β</tspan>5.1</text>
<path d="M332.06,501.3V537.85" stroke="#000" stroke-width="1.1"/>
<text transform="translate(342.82,531.5) rotate(-90) scale(0.96,1)" font-size="9.8" style="stroke-width:0.4px">V<tspan font-weight="normal" fill="#222" style="stroke-width:0.2px;letter-spacing:-0.4px">β</tspan>5.2</text>
<path d="M339.62,501.3V504.35" stroke="#000" stroke-width="1.1"/>
<text transform="translate(350.39,564.0) rotate(-90) scale(0.96,1)" font-size="9.8" style="stroke-width:0.4px">V<tspan font-weight="normal" fill="#222" style="stroke-width:0.2px;letter-spacing:-0.4px">β</tspan>5.3</text>
<path d="M347.19,501.3V537.85" stroke="#000" stroke-width="1.1"/>
<text transform="translate(357.95,531.5) rotate(-90) scale(0.96,1)" font-size="9.8" style="stroke-width:0.4px">V<tspan font-weight="normal" fill="#222" style="stroke-width:0.2px;letter-spacing:-0.4px">β</tspan>7.1</text>
<path d="M354.75,501.3V504.35" stroke="#000" stroke-width="1.1"/>
<text transform="translate(365.52,564.0) rotate(-90) scale(0.96,1)" font-size="9.8" style="stroke-width:0.4px">V<tspan font-weight="normal" fill="#222" style="stroke-width:0.2px;letter-spacing:-0.4px">β</tspan>7.2</text>
<path d="M362.32,501.3V537.85" stroke="#000" stroke-width="1.1"/>
<text transform="translate(373.08,531.5) rotate(-90) scale(0.96,1)" font-size="9.8" style="stroke-width:0.4px">V<tspan font-weight="normal" fill="#222" style="stroke-width:0.2px;letter-spacing:-0.4px">β</tspan>8</text>
<path d="M369.88,501.3V512.20" stroke="#000" stroke-width="1.1"/>
<text transform="translate(380.65,564.0) rotate(-90) scale(0.96,1)" font-size="9.8" style="stroke-width:0.4px">V<tspan font-weight="normal" fill="#222" style="stroke-width:0.2px;letter-spacing:-0.4px">β</tspan>9</text>
<path d="M377.45,501.3V545.70" stroke="#000" stroke-width="1.1"/>
<text transform="translate(388.21,531.5) rotate(-90) scale(0.96,1)" font-size="9.8" style="stroke-width:0.4px">V<tspan font-weight="normal" fill="#222" style="stroke-width:0.2px;letter-spacing:-0.4px">β</tspan>11</text>
<path d="M385.01,501.3V506.97" stroke="#000" stroke-width="1.1"/>
<text transform="translate(395.78,564.0) rotate(-90) scale(0.96,1)" font-size="9.8" style="stroke-width:0.4px">V<tspan font-weight="normal" fill="#222" style="stroke-width:0.2px;letter-spacing:-0.4px">β</tspan>12</text>
<path d="M392.58,501.3V540.47" stroke="#000" stroke-width="1.1"/>
<text transform="translate(403.34,531.5) rotate(-90) scale(0.96,1)" font-size="9.8" style="stroke-width:0.4px">V<tspan font-weight="normal" fill="#222" style="stroke-width:0.2px;letter-spacing:-0.4px">β</tspan>13.1</text>
<text transform="translate(410.91,564.0) rotate(-90) scale(0.96,1)" font-size="9.8" style="stroke-width:0.4px">V<tspan font-weight="normal" fill="#222" style="stroke-width:0.2px;letter-spacing:-0.4px">β</tspan>13.2</text>
<path d="M407.71,501.3V532.62" stroke="#000" stroke-width="1.1"/>
<text transform="translate(418.48,531.5) rotate(-90) scale(0.96,1)" font-size="9.8" style="stroke-width:0.4px">V<tspan font-weight="normal" fill="#222" style="stroke-width:0.2px;letter-spacing:-0.4px">β</tspan>13.6</text>
<text transform="translate(426.04,564.0) rotate(-90) scale(0.96,1)" font-size="9.8" style="stroke-width:0.4px">V<tspan font-weight="normal" fill="#222" style="stroke-width:0.2px;letter-spacing:-0.4px">β</tspan>14</text>
<path d="M422.84,501.3V540.47" stroke="#000" stroke-width="1.1"/>
<text transform="translate(433.61,531.5) rotate(-90) scale(0.96,1)" font-size="9.8" style="stroke-width:0.4px">V<tspan font-weight="normal" fill="#222" style="stroke-width:0.2px;letter-spacing:-0.4px">β</tspan>16</text>
<path d="M430.41,501.3V506.97" stroke="#000" stroke-width="1.1"/>
<text transform="translate(441.17,564.0) rotate(-90) scale(0.96,1)" font-size="9.8" style="stroke-width:0.4px">V<tspan font-weight="normal" fill="#222" style="stroke-width:0.2px;letter-spacing:-0.4px">β</tspan>17</text>
<path d="M437.97,501.3V540.47" stroke="#000" stroke-width="1.1"/>
<text transform="translate(448.74,531.5) rotate(-90) scale(0.96,1)" font-size="9.8" style="stroke-width:0.4px">V<tspan font-weight="normal" fill="#222" style="stroke-width:0.2px;letter-spacing:-0.4px">β</tspan>18</text>
<path d="M445.54,501.3V506.97" stroke="#000" stroke-width="1.1"/>
<text transform="translate(456.30,564.0) rotate(-90) scale(0.96,1)" font-size="9.8" style="stroke-width:0.4px">V<tspan font-weight="normal" fill="#222" style="stroke-width:0.2px;letter-spacing:-0.4px">β</tspan>20</text>
<path d="M453.10,501.3V540.47" stroke="#000" stroke-width="1.1"/>
<text transform="translate(463.87,531.5) rotate(-90) scale(0.96,1)" font-size="9.8" style="stroke-width:0.4px">V<tspan font-weight="normal" fill="#222" style="stroke-width:0.2px;letter-spacing:-0.4px">β</tspan>21.3</text>
<text transform="translate(471.43,564.0) rotate(-90) scale(0.96,1)" font-size="9.8" style="stroke-width:0.4px">V<tspan font-weight="normal" fill="#222" style="stroke-width:0.2px;letter-spacing:-0.4px">β</tspan>22</text>
<path d="M468.23,501.3V540.47" stroke="#000" stroke-width="1.1"/>
<text transform="translate(479.00,531.5) rotate(-90) scale(0.96,1)" font-size="9.8" style="stroke-width:0.4px">V<tspan font-weight="normal" fill="#222" style="stroke-width:0.2px;letter-spacing:-0.4px">β</tspan>23</text>
<path d="M475.80,501.3V506.97" stroke="#000" stroke-width="1.1"/>
</svg>
</body></html>
